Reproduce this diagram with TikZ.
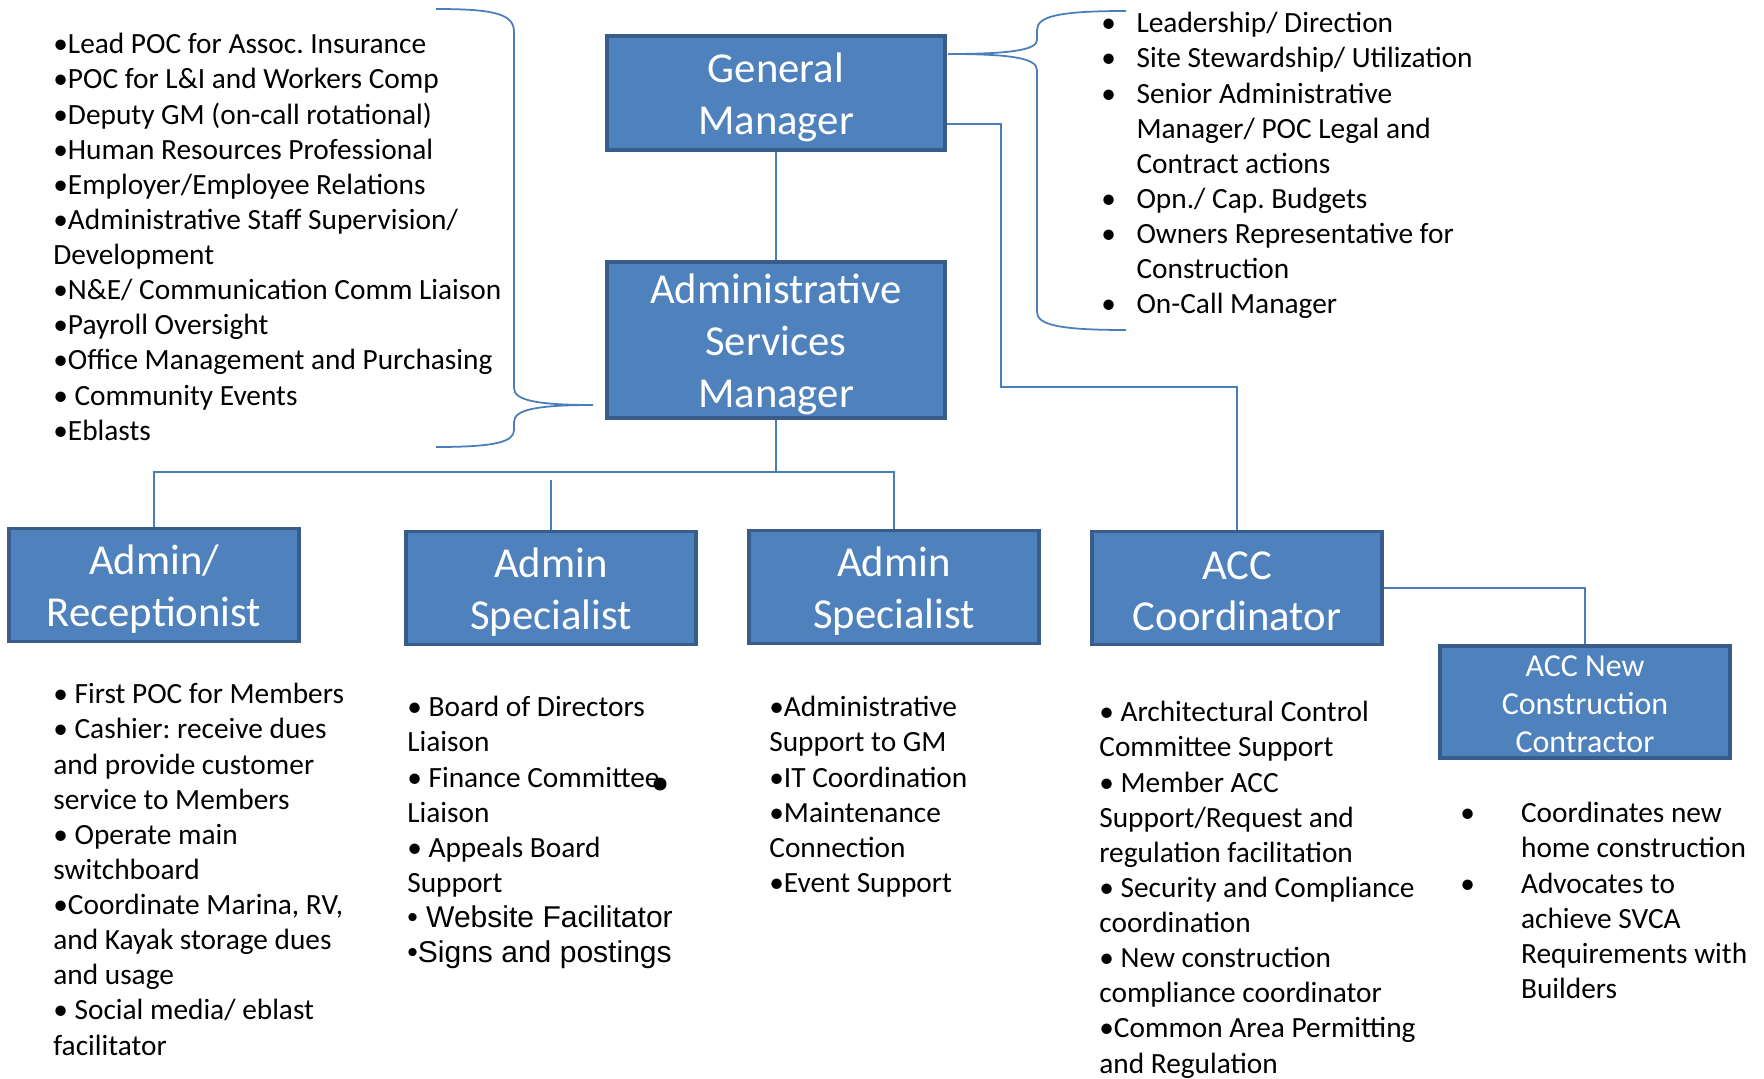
\documentclass[tikz,border=0pt]{standalone}
\usepackage{fontspec}
\setmainfont{Carlito}
\newfontfamily\arialfont{Liberation Sans}
\frenchspacing
\usepackage{tikz}
\definecolor{boxblue}{HTML}{4F81BD}
\definecolor{boxedge}{HTML}{385D8A}
\definecolor{linkblue}{HTML}{4A7EBB}
\tikzstyle{role}=[rectangle,draw=boxedge,line width=2.2pt,fill=boxblue,text=white,align=center,inner sep=0pt,minimum width=5.8cm,minimum height=2.26cm,font=\fontsize{24.3}{29.5}\selectfont]
\tikzstyle{big role}=[role,minimum width=6.76cm]
\tikzstyle{small role}=[role,font=\fontsize{18.2}{21.5}\selectfont]
\tikzstyle{duty}=[anchor=north west,align=left,inner sep=0pt,font=\fontsize{16.7}{20}\selectfont]
\tikzstyle{link}=[draw=linkblue,line width=1pt]
\newcommand{\bul}{\makebox[1.2em][l]{•}}
\newcommand{\ind}{\hspace*{1.2em}}
\newcommand{\wbul}{\makebox[2.07em][l]{•}}
\newcommand{\wind}{\hspace*{2.07em}}
\newcommand{\lift}{\rule{0pt}{0.9em}}
\newcommand{\capslift}{\rule{0pt}{0.8em}}

\begin{document}
\begin{tikzpicture}[x=0.02cm,y=-0.02cm]
    \useasboundingbox (0,0) rectangle (1764,1078);
    % The two managers on top
    \node[big role,minimum height=2.28cm] (gm) at (776,93) {\lift General\\Manager};
    \node[big role,minimum height=3.12cm] (asm) at (776,340) {\lift Administrative\\Services\\Manager};

    % Staff boxes in the lower row
    \foreach \pos/\name/\txt in {{(154,585)/recep/{\lift Admin/\\Receptionist}}, {(551,588)/spec1/{\lift Admin\\Specialist}}, {(894,587)/spec2/{\lift Admin\\Specialist}}, {(1237,588)/acc/{\capslift ACC\\Coordinator}}}
        \node[role] (\name) at \pos {\txt};
    \node[small role,minimum height=2.24cm] (accnew) at (1585,702) {\capslift ACC New\\Construction\\Contractor};

    % Connect the boxes
    \coordinate (gmjog) at (1001,387);
    \coordinate (bus) at (776,472);
    \coordinate (spec1top) at (551,480);
    \path[link] (gm) -- (asm);
    \path[link] ([yshift=-0.62cm]gm.east) -| (gmjog) -| (acc.north);
    \path[link] (asm) -- (bus);
    \path[link] (recep.north) |- (bus) -| (spec2.north);
    \path[link] (spec1top) -- (spec1.north);
    \path[link] (acc.east) -| (accnew.north);

    % Braces
    \path[link] (436,9) .. controls (495,9) and (514,14) .. (514,32) -- (514,388)
        .. controls (514,400) and (535,405) .. (593,405)
        .. controls (535,405) and (514,410) .. (514,422) -- (514,430)
        .. controls (514,442) and (495,447) .. (436,447);
    \path[link] (1126,11) .. controls (1060,11) and (1037,16) .. (1037,30) -- (1037,40)
        .. controls (1037,50) and (1010,54) .. (948,54)
        .. controls (1010,54) and (1037,58) .. (1037,70) -- (1037,312)
        .. controls (1037,325) and (1060,330) .. (1126,330);

    % Duty lists
    \node[duty] (asmduties) at (53,33) {•Lead POC for Assoc. Insurance\\
        •POC for L\&I and Workers Comp\\
        •Deputy GM (on-call rotational)\\
        •Human Resources Professional\\
        •Employer/Employee Relations\\
        •Administrative Staff Supervision/\\
        Development\\
        •N\&E/ Communication Comm Liaison\\
        •Payroll Oversight\\
        •Office Management and Purchasing\\
        • Community Events\\
        •Eblasts};
    \node[duty] (gmduties) at (1101,12) {\bul Leadership/ Direction\\
        \bul Site Stewardship/ Utilization\\
        \bul Senior Administrative\\
        \ind Manager/ POC Legal and\\
        \ind Contract actions\\
        \bul Opn./ Cap. Budgets\\
        \bul Owners Representative for\\
        \ind Construction\\
        \bul On-Call Manager};
    \node[duty] (recepduties) at (53,683) {• First POC for Members\\
        • Cashier: receive dues\\
        and provide customer\\
        service to Members\\
        • Operate main\\
        switchboard\\
        •Coordinate Marina, RV,\\
        and Kayak storage dues\\
        and usage\\
        • Social media/ eblast\\
        facilitator};
    \node[duty] (spec1duties) at (407,696) {• Board of Directors\\
        Liaison\\
        • Finance Committee\\
        Liaison\\
        • Appeals Board\\
        Support\\
        {\arialfont\fontsize{17.1}{20}\selectfont • Website Facilitator}\\
        {\arialfont\fontsize{17.1}{20}\selectfont •Signs and postings}};
    \node[duty] (spec2duties) at (769,696) {•Administrative\\
        Support to GM\\
        •IT Coordination\\
        •Maintenance\\
        Connection\\
        •Event Support};
    \node[duty] (accduties) at (1099,701) {• Architectural Control\\
        Committee Support\\
        • Member ACC\\
        Support/Request and\\
        regulation facilitation\\
        • Security and Compliance\\
        coordination\\
        • New construction\\
        compliance coordinator\\
        •Common Area Permitting\\
        and Regulation};
    \node[duty] (accnewduties) at (1460,802) {\wbul Coordinates new\\
        \wind home construction\\
        \wbul Advocates to\\
        \wind achieve SVCA\\
        \wind Requirements with\\
        \wind Builders};
    \fill (660,784) circle (0.13cm);
\end{tikzpicture}
\end{document}
